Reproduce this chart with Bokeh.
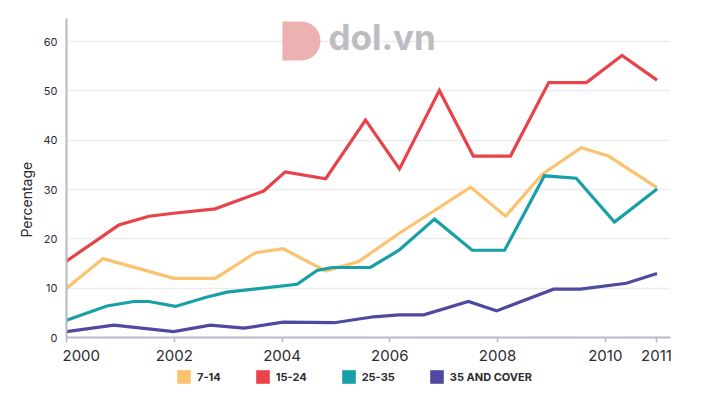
from bokeh.plotting import figure
from bokeh.layouts import column
from bokeh.models import (Range1d, FixedTicker, CustomJSTickFormatter, Legend, LegendItem,
                          Label, BoxAnnotation)
from bokeh.embed import file_html
from bokeh.resources import INLINE

# ---- data ----
x_7_14 = [2000.0, 2000.68, 2001.99, 2002.76, 2003.51, 2004.02, 2004.81, 2005.42, 2006.17,
          2007.50, 2008.15, 2008.83, 2009.55, 2010.06, 2010.96]
y_7_14 = [10.0, 16.0, 12.0, 12.0, 17.2, 18.0, 13.5, 15.4, 21.1, 30.5, 24.6, 33.1, 38.5, 36.8, 30.4]

x_15_24 = [2000.0, 2000.97, 2001.53, 2001.99, 2002.76, 2003.66, 2004.06, 2004.81, 2005.55,
           2006.18, 2006.92, 2007.55, 2008.24, 2008.95, 2009.65, 2010.31, 2010.96]
y_15_24 = [15.5, 22.8, 24.6, 25.2, 26.1, 29.7, 33.6, 32.2, 44.1, 34.2, 50.1, 36.8, 36.8,
           51.7, 51.7, 57.2, 52.2]

x_25_35 = [2000.0, 2000.75, 2001.25, 2001.53, 2002.02, 2002.61, 2002.98, 2004.28, 2004.65,
           2004.93, 2005.64, 2006.17, 2006.83, 2007.53, 2008.13, 2008.87, 2009.46, 2010.17, 2010.96]
y_25_35 = [3.5, 6.4, 7.3, 7.3, 6.3, 8.2, 9.2, 10.8, 13.6, 14.2, 14.2, 17.7, 24.0, 17.7, 17.7,
           32.8, 32.3, 23.4, 30.1]

x_35_up = [2000.0, 2000.88, 2001.99, 2002.67, 2003.29, 2004.02, 2004.97, 2005.70, 2006.17,
           2006.63, 2007.46, 2007.98, 2009.04, 2009.54, 2010.39, 2010.96]
y_35_up = [1.2, 2.5, 1.2, 2.5, 1.9, 3.1, 3.0, 4.2, 4.6, 4.6, 7.3, 5.4, 9.8, 9.8, 11.0, 13.0]

series_names = ["7-14", "15-24", "25-35", "35 AND COVER"]
series_colors = ["#FBC36F", "#E8434A", "#17A0A7", "#4F4AA0"]

x_tick_values = [2000, 2002, 2004, 2006, 2008, 2010, 2010.95]
y_tick_values = [0, 10, 20, 30, 40, 50, 60]

FONT = "Inter"
TEXT = "#2b2d33"
AXIS = "#b5b9c6"
NBSP = "\u00a0"

p = figure(width=712, height=367, output_backend="svg", toolbar_location=None,
           x_range=Range1d(2000, 2011.21), y_range=Range1d(0, 64.7),
           min_border_left=66, min_border_top=18, min_border_right=42, min_border_bottom=30)
p.outline_line_color = None
p.background_fill_color = "white"

# axes
p.xaxis.ticker = FixedTicker(ticks=x_tick_values)
p.xaxis.formatter = CustomJSTickFormatter(
    code="if (tick > 2010.5) { return '2011'; } "
         "if (tick < 2000.5) { return '\\u00a0\\u00a0\\u00a0\\u00a0\\u00a0\\u00a0\\u00a02000'; } "
         "return tick.toFixed(0);")
p.yaxis.ticker = FixedTicker(ticks=y_tick_values)
for ax in (p.xaxis[0], p.yaxis[0]):
    ax.axis_line_color = AXIS
    ax.axis_line_width = 2
    ax.major_tick_line_color = AXIS
    ax.major_tick_line_width = 1.5
    ax.minor_tick_line_color = None
    ax.major_label_text_font = FONT
    ax.major_label_text_color = TEXT
p.xaxis.major_tick_out = 5
p.xaxis.major_tick_in = 0
p.xaxis.major_label_standoff = 3
p.xaxis.major_label_text_font_size = "15px"
p.yaxis.major_tick_out = 0
p.yaxis.major_tick_in = 0
p.yaxis.major_tick_line_color = None
p.yaxis.major_label_standoff = 9
p.yaxis.major_label_text_font_size = "11px"
p.yaxis.axis_label = "Percentage" + NBSP * 11
p.yaxis.axis_label_text_font = FONT
p.yaxis.axis_label_text_font_size = "14px"
p.yaxis.axis_label_text_font_style = "normal"
p.yaxis.axis_label_text_color = TEXT
p.yaxis.axis_label_standoff = 5

p.xgrid.grid_line_color = None
p.ygrid.grid_line_color = "#ececee"
p.ygrid.grid_line_width = 1.5

# watermark
logo = BoxAnnotation(left=2000 + (282 - 66) / 53.9, right=2000 + (320 - 66) / 53.9,
                     top=(337 - 21) / 4.93, bottom=(337 - 60) / 4.93,
                     fill_color="#ecb1b1", fill_alpha=1, line_color=None,
                     border_radius=(0, 19, 19, 0), level="underlay")
p.add_layout(logo)
p.add_layout(Label(x=2000 + (328 - 66) / 53.9, y=(337 - 58) / 4.93, text="dol.vn",
                   text_font=FONT, text_font_size="35px", text_font_style="bold",
                   text_color="#bcbdc1", level="underlay"))

# lines
xs = [x_7_14, x_15_24, x_25_35, x_35_up]
ys = [y_7_14, y_15_24, y_25_35, y_35_up]
for xv, yv, c in zip(xs, ys, series_colors):
    p.line(xv, yv, line_color=c, line_width=3.2, line_join="miter")

# legend strip below, with square swatches
lg = figure(width=712, height=33, output_backend="svg", toolbar_location=None,
            x_axis_location=None, y_axis_location=None,
            x_range=Range1d(0, 1), y_range=Range1d(0, 1),
            min_border_left=0, min_border_right=0, min_border_top=0, min_border_bottom=0)
lg.outline_line_color = None
lg.grid.grid_line_color = None
nan = float("nan")
items = []
for name, c in zip(series_names, series_colors):
    r = lg.quad(left=[nan], right=[nan], top=[nan], bottom=[nan], fill_color=c, line_color=None)
    items.append(LegendItem(label=name, renderers=[r], index=0))
legend = Legend(items=items, orientation="horizontal", location=(109, 15),
                glyph_width=17, glyph_height=17, label_standoff=5, spacing=33,
                padding=0, margin=0, border_line_color=None, background_fill_alpha=0,
                label_text_font=FONT, label_text_font_size="11px",
                label_text_font_style="bold", label_text_color=TEXT, label_height=17)
lg.add_layout(legend, "center")

open("out.html", "w").write(file_html(column(p, lg, spacing=0), INLINE))
